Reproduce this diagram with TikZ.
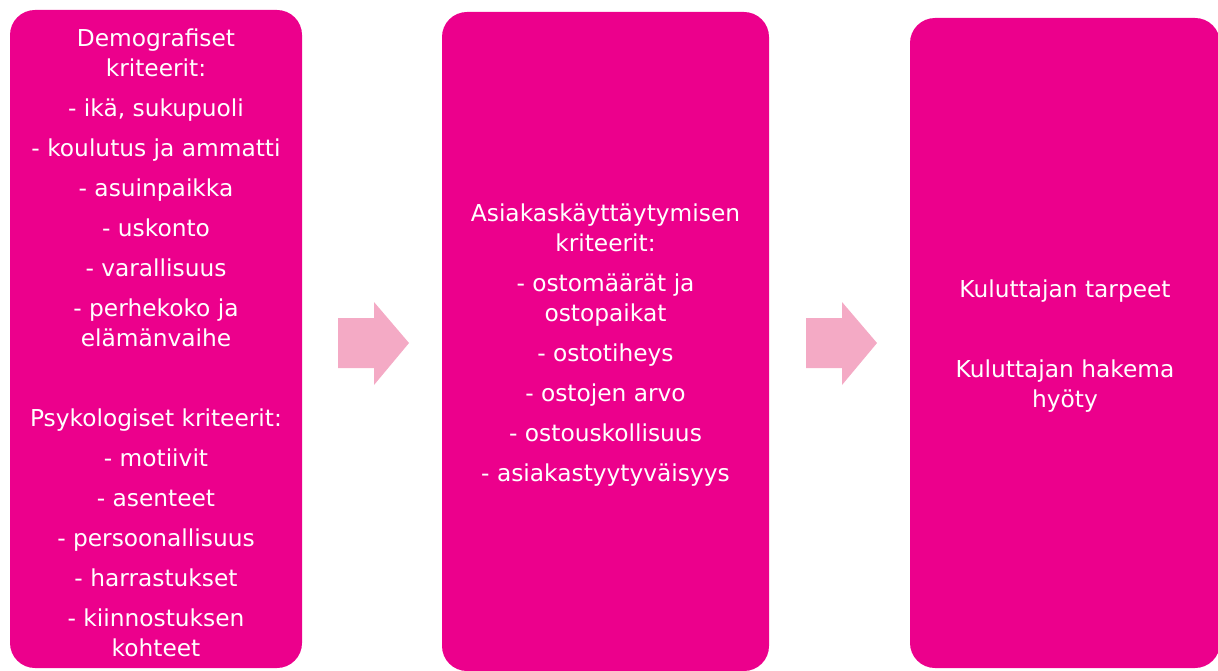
\documentclass[tikz,border=0pt]{standalone}
\usepackage{fontspec}
\setmainfont{DejaVu Sans}
\definecolor{segmagenta}{RGB}{236,0,140}
\definecolor{segpink}{RGB}{244,170,197}

\begin{document}
\begin{tikzpicture}[
  x=1pt,y=-1pt,
  font=\fontsize{23.3}{30}\selectfont,
  segbox/.style={rounded corners=25pt,fill=segmagenta,inner sep=0pt},
  segtext/.style={text=white,align=center,inner sep=0pt},
  flowarrow/.style={fill=segpink,draw=none}
]
\useasboundingbox (0,0) rectangle (1218,671);

% Demographic and psychological criteria.
\node[segbox,minimum width=292pt,minimum height=658pt] (demo) at (156,339) {};
\node[segtext] (demotext) at ([yshift=-4pt]demo.center)
  {Demografiset\\kriteerit:\\[10pt]
   - ikä, sukupuoli\\[10pt]
   - koulutus ja ammatti\\[10pt]
   - asuinpaikka\\[10pt]
   - uskonto\\[10pt]
   - varallisuus\\[10pt]
   - perhekoko ja\\elämänvaihe\\[50pt]
   Psykologiset kriteerit:\\[10pt]
   - motiivit\\[10pt]
   - asenteet\\[10pt]
   - persoonallisuus\\[10pt]
   - harrastukset\\[10pt]
   - kiinnostuksen\\kohteet};

% Customer behaviour criteria.
\node[segbox,minimum width=327pt,minimum height=659pt] (behav) at (605.5,341.5) {};
\node[segtext] (behavtext) at ([yshift=-4pt]behav.center)
  {Asiakaskäyttäytymisen\\kriteerit:\\[10pt]
   - ostomäärät ja\\ostopaikat\\[10pt]
   - ostotiheys\\[10pt]
   - ostojen arvo\\[10pt]
   - ostouskollisuus\\[10pt]
   - asiakastyytyväisyys};

% Needs and benefits.
\node[segbox,minimum width=310pt,minimum height=650pt] (needs) at (1065,343) {};
\node[segtext] (needstext) at ([yshift=-3pt]needs.center)
  {Kuluttajan tarpeet\\[50pt]
   Kuluttajan hakema\\hyöty};

% Block arrows between the boxes.
\foreach \ax in {338,806}{
  \fill[flowarrow] (\ax,318) -- ++(36,0) -- ++(0,-16) -- ++(35,41)
    -- ++(-35,42) -- ++(0,-17) -- ++(-36,0) -- cycle;
}

\end{tikzpicture}
\end{document}
